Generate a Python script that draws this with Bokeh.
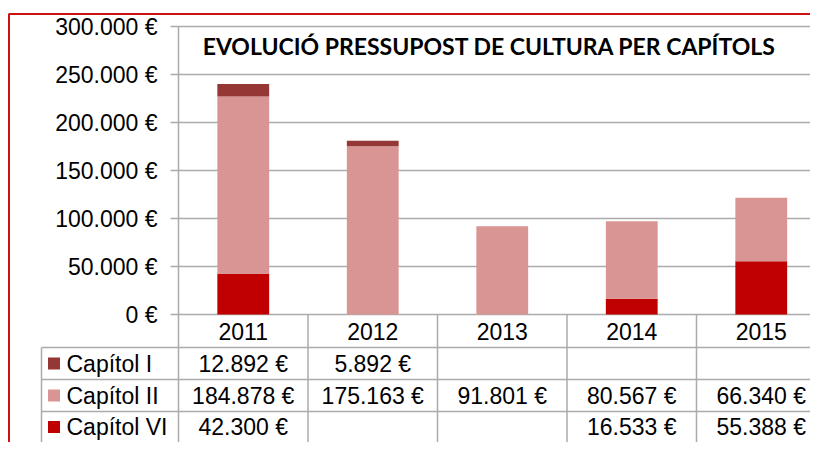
from bokeh.plotting import figure
from bokeh.models import Range1d, ColumnDataSource
from bokeh.core.properties import value
from bokeh.embed import file_html
from bokeh.resources import INLINE

# ---------------- data ----------------
years = ["2011", "2012", "2013", "2014", "2015"]
series_names = ["Capítol I", "Capítol II", "Capítol VI"]
capitol_I = [12892, 5892, None, None, None]
capitol_II = [184878, 175163, 91801, 80567, 66340]
capitol_VI = [42300, None, None, 16533, 55388]
colors = ["#953735", "#D99594", "#C00000"]
y_ticks = [0, 50000, 100000, 150000, 200000, 250000, 300000]
title_text = "EVOLUCIÓ PRESSUPOST DE CULTURA PER CAPÍTOLS"

# ---------------- layout helpers (picture pixels -> data units) ----------------
X0, CW = 178.0, 129.5          # left edge of first category, category width
Y0, YPX = 314.0, 300000 / 288  # baseline pixel row, value per pixel
W, H = 810, 442


def px_x(px):
    return (px - X0) / CW


def px_y(py):
    return (Y0 - py) * YPX


def eur(v):
    return f"{v:,}".replace(",", ".") + " €"


FONT = value("Liberation Sans")
FS = "23px"
GRID = "#ababab"

p = figure(width=W, height=H, output_backend="svg", toolbar_location=None,
           x_range=Range1d(px_x(0), px_x(W)), y_range=Range1d(px_y(H), px_y(0)),
           x_axis_type=None, y_axis_type=None, min_border=0,
           outline_line_color=None, background_fill_color="white",
           border_fill_color="white")
p.xgrid.visible = False
p.ygrid.visible = False

# horizontal gridlines (extend as outside ticks to the left)
p.segment(x0=[px_x(170)] * len(y_ticks), x1=[px_x(W + 10)] * len(y_ticks),
          y0=y_ticks, y1=y_ticks, line_color=GRID, line_width=1.5)

# stacked bars
n = len(years)
xc = [i + 0.5 for i in range(n)]
vi = [v or 0 for v in capitol_VI]
ii = [v or 0 for v in capitol_II]
ci = [v or 0 for v in capitol_I]
t1 = [a + b for a, b in zip(vi, ii)]
t2 = [a + b for a, b in zip(t1, ci)]
src = ColumnDataSource(dict(x=xc, b0=[0] * n, t0=vi, t1=t1, t2=t2))
p.vbar(x="x", bottom="b0", top="t0", width=0.4, source=src, fill_color=colors[2], line_color=None)
p.vbar(x="x", bottom="t0", top="t1", width=0.4, source=src, fill_color=colors[1], line_color=None)
p.vbar(x="x", bottom="t1", top="t2", width=0.4, source=src, fill_color=colors[0], line_color=None)

# y tick labels
p.text(x=[px_x(157)] * len(y_ticks), y=y_ticks, text=[eur(t) if t else "0 €" for t in y_ticks],
       text_align="right", text_baseline="middle", text_font=FONT, text_font_size=FS,
       text_color="#000000")

# table grid (rows slightly compressed so the last row stays inside the picture)
row_lines = [347, 379, 411]
p.segment(x0=[px_x(41)] * 3, x1=[px_x(W + 10)] * 3, y0=[px_y(r) for r in row_lines],
          y1=[px_y(r) for r in row_lines], line_color=GRID, line_width=1.5)
sep = list(range(n))
p.segment(x0=[0], x1=[0], y0=[px_y(26)], y1=[px_y(H + 10)], line_color=GRID, line_width=1.5)
p.segment(x0=sep[1:], x1=sep[1:], y0=[0] * (n - 1), y1=[px_y(H + 10)] * (n - 1),
          line_color=GRID, line_width=1.5)
p.segment(x0=[px_x(41)], x1=[px_x(41)], y0=[px_y(347)], y1=[px_y(H + 10)],
          line_color=GRID, line_width=1.5)

# year header
p.text(x=xc, y=[px_y(330.5)] * n, text=years, text_align="center", text_baseline="middle",
       text_font=FONT, text_font_size=FS, text_color="#000000")

# table rows
row_centers = [363, 395, 426.5]
for vals, name, col, rc in zip([capitol_I, capitol_II, capitol_VI], series_names, colors, row_centers):
    yy = px_y(rc)
    xs = [x for x, v in zip(xc, vals) if v]
    ts = [eur(v) for v in vals if v]
    p.text(x=xs, y=[yy] * len(xs), text=ts, text_align="center", text_baseline="middle",
           text_font=FONT, text_font_size=FS, text_color="#000000")
    p.rect(x=[px_x(53.5)], y=[yy], width=12 / CW, height=12 * YPX, fill_color=col, line_color=None)
    p.text(x=[px_x(66)], y=[yy], text=[name], text_align="left", text_baseline="middle",
           text_font=FONT, text_font_size=FS, text_color="#000000")

# title
p.text(x=[px_x(489)], y=[px_y(45)], text=[title_text], text_align="center", text_baseline="middle",
       text_font=value("Lato"), text_font_style="bold", text_font_size="23px", text_color="#000000")

# red chart border (top and left)
RED = "#CC1111"
p.segment(x0=[px_x(8)], x1=[px_x(W + 10)], y0=[px_y(13.5)], y1=[px_y(13.5)], line_color=RED, line_width=2)
p.segment(x0=[px_x(8.5)], x1=[px_x(8.5)], y0=[px_y(13.5)], y1=[px_y(H + 10)], line_color=RED, line_width=2)

open("out.html", "w").write(file_html(p, INLINE))
